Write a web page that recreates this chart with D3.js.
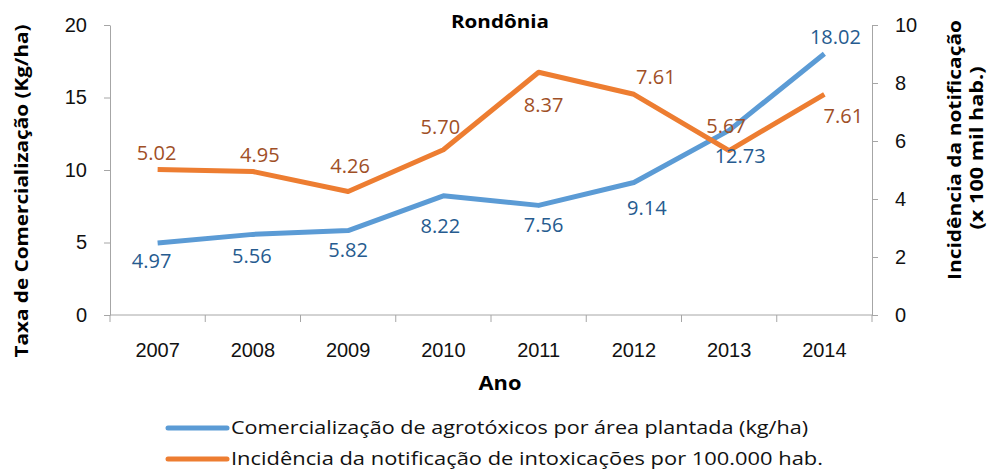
<!DOCTYPE html>
<html lang="pt">
<head>
<meta charset="utf-8">
<script src="https://cdnjs.cloudflare.com/ajax/libs/d3/7.8.5/d3.min.js"></script>
<style>
  body { margin: 0; background: #fff; }
  svg { font-family: "Open Sans", "Noto Sans", sans-serif; }
  .axis path, .axis line { stroke: #a6a6a6; }
  .axis text { font-size: 20px; fill: #111; }
</style>
</head>
<body>
<div id="chart"></div>
<script>
// data
var years = ['2007', '2008', '2009', '2010', '2011', '2012', '2013', '2014'];
var comercializacao = [4.97, 5.56, 5.82, 8.22, 7.56, 9.14, 12.73, 18.02];
var incidencia = [5.02, 4.95, 4.26, 5.70, 8.37, 7.61, 5.67, 7.61];
var leftTicks = [0, 5, 10, 15, 20];
var rightTicks = [0, 2, 4, 6, 8, 10];

// data label nudges (label centre relative to its point), as placed in the original
var blueLabelDx = [-6, -1, 0, -3, 5, 13, 11, 11];
var blueLabelDy = [18, 22, 19, 30, 20, 26, 26, -17];
var orangeLabelDx = [-1, 7, 2, -3, 5, 22, -3, 19];
var orangeLabelDy = [-16, -16, -25, -23, 33, -17, -25, 22];

var width = 991, height = 471;
var margin = { left: 110, right: 119, top: 25, bottom: 156 };

var svg = d3.select('#chart').append('svg')
  .attr('width', width)
  .attr('height', height);

var x = d3.scaleBand()
  .domain(years)
  .range([margin.left, width - margin.right]);

var yLeft = d3.scaleLinear()
  .domain([0, 20])
  .range([height - margin.bottom, margin.top]);

var yRight = d3.scaleLinear()
  .domain([0, 10])
  .range([height - margin.bottom, margin.top]);

// axes
var xAxis = svg.append('g')
  .attr('class', 'axis')
  .attr('transform', 'translate(0,' + (height - margin.bottom) + ')')
  .call(d3.axisBottom(x).tickSize(0).tickPadding(28));
// ticks between categories
xAxis.selectAll('.sep')
  .data(d3.range(years.length + 1))
  .enter().append('line')
  .attr('class', 'sep')
  .attr('x1', function(i) { return margin.left + i * x.step(); })
  .attr('x2', function(i) { return margin.left + i * x.step(); })
  .attr('y1', 0).attr('y2', 7);
xAxis.select('.domain').attr('d', 'M' + margin.left + ',0H' + (width - margin.right));

svg.append('g')
  .attr('class', 'axis')
  .attr('transform', 'translate(' + margin.left + ',0)')
  .call(d3.axisLeft(yLeft).tickValues(leftTicks).tickSize(6).tickPadding(17).tickSizeOuter(0));

svg.append('g')
  .attr('class', 'axis')
  .attr('transform', 'translate(' + (width - margin.right) + ',0)')
  .call(d3.axisRight(yRight).tickValues(rightTicks).tickSize(6).tickPadding(17).tickSizeOuter(0));

// lines
function cx(d, i) { return x(years[i]) + x.bandwidth() / 2; }

var blueLine = d3.line().x(cx).y(function(d) { return yLeft(d); });
var orangeLine = d3.line().x(cx).y(function(d) { return yRight(d); });

svg.append('path')
  .datum(comercializacao)
  .attr('d', blueLine)
  .attr('fill', 'none')
  .attr('stroke', '#5b9bd5')
  .attr('stroke-width', 5)
  .attr('stroke-linejoin', 'round');

svg.append('path')
  .datum(incidencia)
  .attr('d', orangeLine)
  .attr('fill', 'none')
  .attr('stroke', '#ed7d31')
  .attr('stroke-width', 5)
  .attr('stroke-linejoin', 'round');

// data labels
function placeLabels(values, scale, dxs, dys, color) {
  svg.append('g').selectAll('text')
    .data(values)
    .enter().append('text')
    .attr('x', function(d, i) { return cx(d, i) + dxs[i]; })
    .attr('y', function(d, i) { return scale(d) + dys[i] + 7; })
    .attr('text-anchor', 'middle')
    .attr('font-size', 20)
    .attr('fill', color)
    .text(function(d) { return d.toFixed(2); });
}
placeLabels(comercializacao, yLeft, blueLabelDx, blueLabelDy, '#265b8f');
placeLabels(incidencia, yRight, orangeLabelDx, orangeLabelDy, '#a04f26');

// titles
svg.append('text')
  .attr('x', 500).attr('y', 28)
  .attr('text-anchor', 'middle')
  .attr('font-size', 18).attr('font-weight', 'bold')
  .attr('textLength', 98).attr('lengthAdjust', 'spacingAndGlyphs')
  .text('Rondônia');

svg.append('text')
  .attr('x', 500).attr('y', 390)
  .attr('text-anchor', 'middle')
  .attr('font-size', 19).attr('font-weight', 'bold')
  .attr('textLength', 43).attr('lengthAdjust', 'spacingAndGlyphs')
  .text('Ano');

svg.append('text')
  .attr('transform', 'translate(28,191) rotate(-90)')
  .attr('text-anchor', 'middle')
  .attr('font-size', 18).attr('font-weight', 'bold')
  .attr('textLength', 333).attr('lengthAdjust', 'spacingAndGlyphs')
  .text('Taxa de Comercialização (Kg/ha)');

var rightTitle = svg.append('g')
  .attr('transform', 'translate(961,150) rotate(-90)')
  .attr('font-size', 18).attr('font-weight', 'bold');
rightTitle.append('text')
  .attr('x', 0).attr('y', 0)
  .attr('text-anchor', 'middle')
  .attr('textLength', 260).attr('lengthAdjust', 'spacingAndGlyphs')
  .text('Incidência da notificação');
rightTitle.append('text')
  .attr('x', 2).attr('y', 22)
  .attr('text-anchor', 'middle')
  .attr('textLength', 163).attr('lengthAdjust', 'spacingAndGlyphs')
  .text('(x 100 mil hab.)');

// legend
var legendItems = [
  { label: 'Comercialização de agrotóxicos por área plantada (kg/ha)', color: '#5b9bd5' },
  { label: 'Incidência da notificação de intoxicações por 100.000 hab.', color: '#ed7d31' }
];
var legend = svg.append('g').attr('transform', 'translate(168,428)');
legendItems.forEach(function(item, i) {
  var g = legend.append('g').attr('transform', 'translate(0,' + i * 31 + ')');
  g.append('line')
    .attr('x1', 0).attr('x2', 59)
    .attr('y1', 0).attr('y2', 0)
    .attr('stroke', item.color)
    .attr('stroke-width', 5)
    .attr('stroke-linecap', 'round');
  g.append('text')
    .attr('x', 63).attr('y', 6)
    .attr('font-size', 18)
    .attr('textLength', i === 0 ? 577 : 592)
    .attr('lengthAdjust', 'spacingAndGlyphs')
    .attr('fill', '#111')
    .text(item.label);
});
</script>
</body>
</html>
